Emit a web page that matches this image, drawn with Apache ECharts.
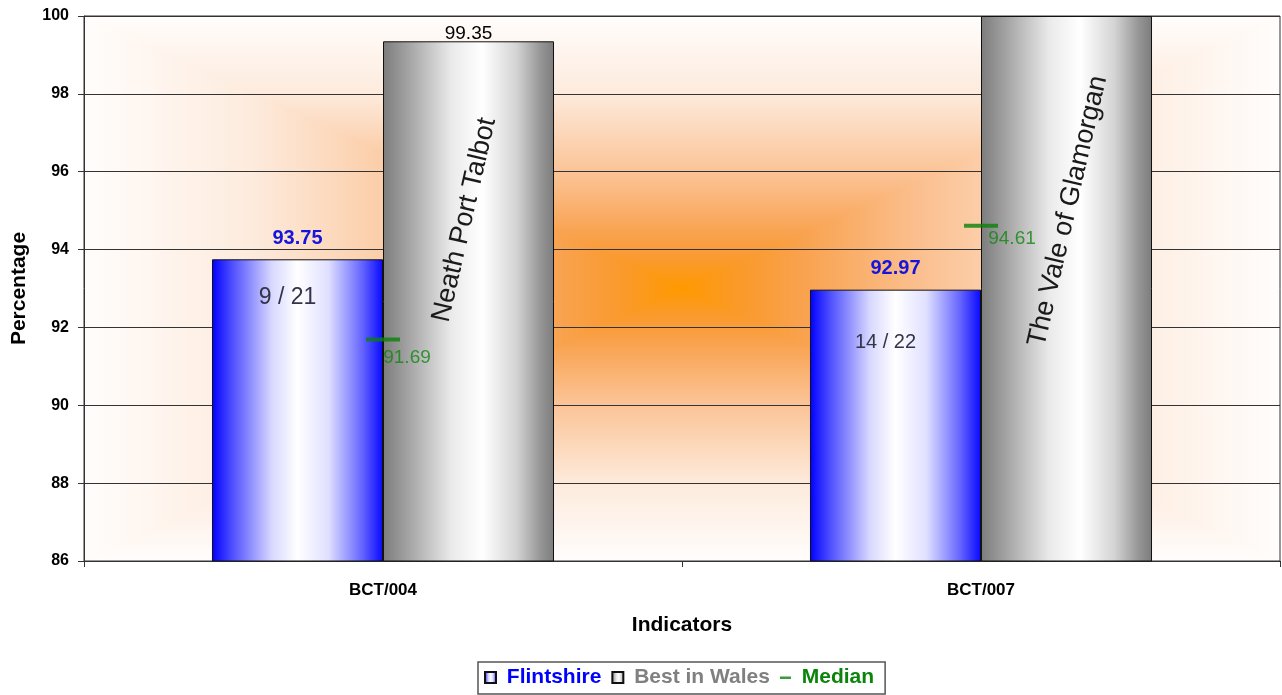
<!DOCTYPE html>
<html>
<head>
<meta charset="utf-8">
<script src="https://cdn.jsdelivr.net/npm/echarts@6/dist/echarts.min.js"></script>
<style>
html,body{margin:0;padding:0;background:#fff;}
#chart{width:1282px;height:695px;}
</style>
</head>
<body>
<div id="chart"></div>
<script>
// ---- data ----
const categories = ['BCT/004', 'BCT/007'];
const flintshire = [93.75, 92.97];
const bestInWales = [99.35, 100];
const median = [91.69, 94.61];
const flintRank = ['9 / 21', '14 / 22'];
const bestAuthority = ['Neath Port Talbot', 'The Vale of Glamorgan'];
const yMin = 86, yMax = 100, yStep = 2;

// ---- layout / style constants ----
const FONT = 'Liberation Sans, Arial, sans-serif';
const rankLabelLayout = [{ dy: 38, size: 23 }, { dy: 53, size: 20 }];
const nameLabelLayout = [{ dx: -18, dy: 161 }, { dx: 6, dy: 201 }];
const medianLabelOffset = [[24, 18], [31, 13]];
const CAT_GAP = '42.8%';

const blueGrad = {
  type: 'linear', x: 0, y: 0, x2: 1, y2: 0,
  colorStops: [
    { offset: 0, color: '#0000FF' },
    { offset: 0.12, color: '#5050FF' },
    { offset: 0.35, color: '#D8D8FF' },
    { offset: 0.5, color: '#FFFFFF' },
    { offset: 0.68, color: '#E0E0FF' },
    { offset: 0.88, color: '#6464FF' },
    { offset: 1, color: '#0808FF' }
  ]
};
const grayGrad = {
  type: 'linear', x: 0, y: 0, x2: 1, y2: 0,
  colorStops: [
    { offset: 0, color: '#7C7C7C' },
    { offset: 0.15, color: '#A4A4A4' },
    { offset: 0.4, color: '#EAEAEA' },
    { offset: 0.58, color: '#FFFFFF' },
    { offset: 0.78, color: '#D4D4D4' },
    { offset: 0.92, color: '#969696' },
    { offset: 1, color: '#7C7C7C' }
  ]
};

const medianIcon = 'path://M0,0h0.05v0.05h-0.05z M0,4.5h11v2.5h-11z M10.95,10.95h0.05v0.05h-0.05z';

const chart = echarts.init(document.getElementById('chart'), null, { renderer: 'canvas' });

const option = {
  animation: false,
  backgroundColor: '#ffffff',
  textStyle: { fontFamily: FONT },
  grid: {
    left: 84, right: 2, top: 16, bottom: 134,
    containLabel: false, outerBoundsMode: 'none',
    show: true, borderColor: '#333', borderWidth: 1, backgroundColor: 'transparent'
  },
  legend: {
    left: 478, top: 662,
    padding: [5, 11, 6, 6],
    itemGap: 10, itemWidth: 11, itemHeight: 11,
    borderColor: '#555', borderWidth: 1.5, backgroundColor: '#fff',
    formatter: name => ' ' + name,
    textStyle: { fontFamily: FONT, fontSize: 21, fontWeight: 'bold' },
    data: [
      { name: 'Flintshire', icon: 'rect', textStyle: { color: '#0000FF' } },
      { name: 'Best in Wales', icon: 'rect', textStyle: { color: '#808080' } },
      { name: 'Median', icon: medianIcon, textStyle: { color: '#0A840A' } }
    ]
  },
  xAxis: [
    {
      type: 'category', data: categories, gridIndex: 0,
      name: 'Indicators', nameLocation: 'middle', nameGap: 54,
      nameTextStyle: { fontFamily: FONT, fontSize: 21, fontWeight: 'bold', color: '#000' },
      axisLine: { show: true, lineStyle: { color: '#333', width: 1 } },
      axisTick: { show: true, inside: false, length: 6, lineStyle: { color: '#333' } },
      axisLabel: { margin: 21, fontFamily: FONT, fontSize: 17, fontWeight: 'bold', color: '#000' },
      splitLine: { show: false }
    },
    {
      type: 'category', data: categories, gridIndex: 0, show: false
    }
  ],
  yAxis: {
    type: 'value', min: yMin, max: yMax, interval: yStep,
    name: 'Percentage', nameLocation: 'middle', nameGap: 54,
    nameTextStyle: { fontFamily: FONT, fontSize: 21, fontWeight: 'bold', color: '#000' },
    axisLine: { show: true, lineStyle: { color: '#333', width: 1 } },
    axisTick: { show: true, inside: false, length: 6, lineStyle: { color: '#333' } },
    axisLabel: { margin: 15, fontFamily: FONT, fontSize: 16, fontWeight: 'bold', color: '#000' },
    splitLine: { show: true, lineStyle: { color: '#333', width: 1 } }
  },
  series: [
    {
      name: 'Flintshire', type: 'bar', xAxisIndex: 0,
      barGap: '0%', barCategoryGap: CAT_GAP, z: 2,
      itemStyle: { color: blueGrad, borderColor: '#111', borderWidth: 1 },
      data: flintshire.map((v, i) => ({
        value: v,
        label: {
          show: true,
          position: ['50%', rankLabelLayout[i].dy],
          offset: [-10, 0],
          align: 'center', verticalAlign: 'middle',
          formatter: flintRank[i],
          fontFamily: FONT, fontSize: rankLabelLayout[i].size, color: '#33334A'
        }
      }))
    },
    {
      name: 'Best in Wales', type: 'bar', xAxisIndex: 0,
      barGap: '0%', barCategoryGap: CAT_GAP, z: 2,
      itemStyle: { color: grayGrad, borderColor: '#111', borderWidth: 1 },
      data: bestInWales.map((v, i) => ({
        value: v,
        label: {
          show: true,
          position: ['50%', nameLabelLayout[i].dy],
          offset: [nameLabelLayout[i].dx, 0],
          align: 'center', verticalAlign: 'middle',
          rotate: 77,
          formatter: bestAuthority[i],
          fontFamily: FONT, fontSize: 27, color: '#1A1A1A'
        }
      }))
    },
    {
      name: 'FlintshireValue', type: 'bar', xAxisIndex: 1,
      barGap: '0%', barCategoryGap: CAT_GAP, z: 4, silent: true,
      itemStyle: { color: 'transparent', borderWidth: 0 },
      label: {
        show: true, position: 'top', distance: 11,
        fontFamily: FONT, fontSize: 20, fontWeight: 'bold', color: '#1414DC',
        formatter: p => p.value.toFixed(2)
      },
      data: flintshire.slice()
    },
    {
      name: 'BestValue', type: 'bar', xAxisIndex: 1,
      barGap: '0%', barCategoryGap: CAT_GAP, z: 4, silent: true,
      itemStyle: { color: 'transparent', borderWidth: 0 },
      data: bestInWales.map(v => ({
        value: v,
        label: {
          show: v < yMax, position: 'top', distance: -2,
          fontFamily: FONT, fontSize: 19, color: '#000',
          formatter: p => p.value.toFixed(2)
        }
      }))
    },
    {
      name: 'Median', type: 'scatter', xAxisIndex: 0, z: 6,
      symbol: 'rect', symbolSize: [34, 4],
      itemStyle: { color: '#0A820A' },
      data: median.map((v, i) => ({
        value: v,
        label: {
          show: true, position: 'inside',
          offset: medianLabelOffset[i],
          align: 'center', verticalAlign: 'middle',
          fontFamily: FONT, fontSize: 19, color: '#0F870F',
          formatter: p => p.value.toFixed(2)
        }
      }))
    }
  ]
};

chart.setOption(option);

// ---- plot-area background: rectangular "from centre" orange gradient ----
const xc0 = chart.convertToPixel({ xAxisIndex: 0 }, categories[0]);
const xc1 = chart.convertToPixel({ xAxisIndex: 0 }, categories[categories.length - 1]);
const band = (xc1 - xc0) / (categories.length - 1);
const L = xc0 - band / 2, R = xc1 + band / 2;
const T = chart.convertToPixel({ yAxisIndex: 0 }, yMax);
const B = chart.convertToPixel({ yAxisIndex: 0 }, yMin);
const cx = (L + R) / 2, cy = (T + B) / 2;

// stops from edge (0) to centre (1)
const glow = [
  [0, '#FFFDFC'], [0.28, '#FDEBDD'], [0.6, '#FBC090'], [0.8, '#F9A24E'], [0.9, '#FA9A2C'], [1, '#FF9900']
];
const edgeToCentre = (x, y, x2, y2) => ({
  type: 'linear', x, y, x2, y2,
  colorStops: glow.map(s => ({ offset: s[0], color: s[1] }))
});
const vertMirror = {
  type: 'linear', x: 0, y: 0, x2: 0, y2: 1,
  colorStops: glow.map(s => ({ offset: s[0] / 2, color: s[1] }))
    .concat(glow.slice().reverse().map(s => ({ offset: 1 - s[0] / 2, color: s[1] })))
};

chart.setOption({
  graphic: [
    { type: 'rect', silent: true, z: -2, shape: { x: L, y: T, width: R - L, height: B - T }, style: { fill: vertMirror } },
    { type: 'polygon', silent: true, z: -1, shape: { points: [[cx, cy], [L, T], [L, B]] }, style: { fill: edgeToCentre(0, 0, 1, 0) } },
    { type: 'polygon', silent: true, z: -1, shape: { points: [[cx, cy], [R, T], [R, B]] }, style: { fill: edgeToCentre(1, 0, 0, 0) } }
  ]
});
</script>
</body>
</html>
